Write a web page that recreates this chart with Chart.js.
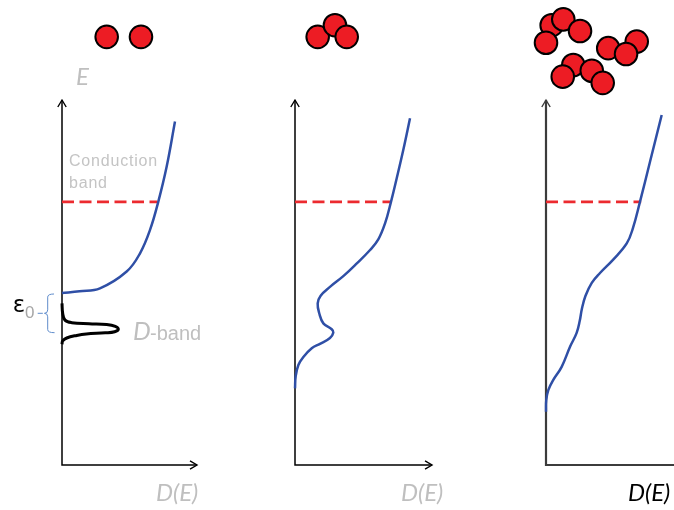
<!DOCTYPE html>
<html>
<head>
<meta charset="utf-8">
<script src="https://cdn.jsdelivr.net/npm/chart.js@4/dist/chart.umd.min.js"></script>
<style>
  html, body { margin: 0; padding: 0; background: #fff; }
  #wrap { position: relative; width: 674px; height: 510px; overflow: hidden; }
  #wrap canvas { position: absolute; top: 0; }
</style>
</head>
<body>
<div id="wrap">
  <canvas id="p1" width="232" height="510" style="left:0px"></canvas>
  <canvas id="p2" width="230" height="510" style="left:232px"></canvas>
  <canvas id="p3" width="212" height="510" style="left:462px"></canvas>
</div>
<script>
// ---- Density of states D(E) vs energy E, in arbitrary units (D, E) ----

// Dimer: conduction-band DOS and the narrow d-band
const dosDimer = [[0, 4.71], [1.3, 4.76], [2.81, 4.84], [4.79, 5.30], [5.78, 5.80],
                  [6.52, 6.44], [7.13, 7.21], [7.75, 8.17], [8.37, 9.41]];
const dBandDimer = [[0, 4.43], [0.05, 4.16], [0.22, 3.97], [0.72, 3.90], [2.0, 3.87],
                    [3.3, 3.85], [3.95, 3.80], [4.17, 3.72], [3.9, 3.65], [3.2, 3.62],
                    [1.8, 3.59], [1.09, 3.55], [0.35, 3.48], [0.05, 3.40], [0, 3.31]];

// Trimer
const dosTrimer = [[0, 2.10], [0.05, 2.43], [0.25, 2.74], [0.62, 2.96], [1.24, 3.20],
                   [1.85, 3.32], [2.59, 3.48], [2.84, 3.63], [2.72, 3.72], [2.10, 3.88],
                   [1.80, 4.15], [1.68, 4.43], [1.90, 4.64], [2.59, 4.88], [3.6, 5.18],
                   [4.6, 5.53], [5.56, 5.89], [6.17, 6.18], [6.67, 6.62],
                   [7.11, 7.21], [7.53, 7.85], [8.02, 8.63], [8.52, 9.50]];

// Larger cluster
const dosCluster = [[0, 1.46], [0.02, 1.78], [0.17, 2.05], [0.54, 2.33], [1.16, 2.69],
                    [1.78, 3.24], [2.27, 3.62], [2.50, 3.95], [2.66, 4.28], [2.92, 4.63],
                    [3.39, 4.99], [4.0, 5.26], [4.96, 5.62], [5.98, 6.07], [6.44, 6.49],
                    [6.96, 7.21], [7.70, 8.30], [8.57, 9.59]];

// Fermi level (dashed) in each panel
const fermiLevel = [[0, 7.21], [7.05, 7.21]];

// Atom positions above each panel, listed back to front
const atomsDimer = [[3.31, 11.73], [5.85, 11.73]];
const atomsTrimer = [[1.68, 11.73], [2.96, 12.05], [3.83, 11.73]];
const atomsCluster = [[0.42, 12.05], [1.28, 12.21], [2.52, 11.89], [0.0, 11.57],
                      [4.61, 11.42], [6.72, 11.60], [5.93, 11.26],
                      [2.02, 10.96], [3.39, 10.80], [1.24, 10.64], [4.20, 10.47]];

// Axis lengths (E axis top, D axis end; null = runs off the page)
const eAxisTop = 10;
const dAxisEnd = [10.0, 10.15, null];

// Text labels
const axisLabelE = 'E';
const axisLabelD = 'D(E)';
const bandLabels = ['Conduction', 'band'];
const dBandLabel = ['D', '-band'];
const gapLabel = ['\u03B5', '0'];

// ---- layout ----
const PX_PER_D = 13.5, PX_PER_E = 36.5;
const BASE_Y = 465, FIG_H = 510;
const panels = [
  { id: 'p1', left: 0,   width: 232, axisX: 62 },
  { id: 'p2', left: 232, width: 230, axisX: 295 },
  { id: 'p3', left: 462, width: 212, axisX: 546 }
];

const BLUE = '#2f4fa6', RED = '#ec2a2f', GREY_TXT = '#bfbfbf';
const pts = arr => arr.map(([x, y]) => ({ x, y }));

function curve(data, color, width) {
  return { type: 'scatter', data: pts(data), showLine: true, borderColor: color,
           borderWidth: width, pointRadius: 0, tension: 0.4, fill: false };
}
function dashed(data) {
  return { type: 'scatter', data: pts(data), showLine: true, borderColor: RED,
           borderWidth: 2.7, borderDash: [12, 5.5], pointRadius: 0, tension: 0, fill: false };
}
function atoms(data) {
  return { type: 'scatter', data: pts(data), showLine: false, pointRadius: 11.3,
           pointBackgroundColor: '#ed1c24', pointBorderColor: '#000', pointBorderWidth: 2,
           pointHoverRadius: 11.3 };
}

// Axes, arrowheads, brace and text
const figurePlugin = {
  id: 'figure',
  beforeDatasetsDraw(chart, args, o) {
    const ctx = chart.ctx, xs = chart.scales.x, ys = chart.scales.y;
    const x0 = xs.getPixelForValue(0), y0 = ys.getPixelForValue(0);
    const yTop = ys.getPixelForValue(eAxisTop);
    const xEnd = o.dEnd === null ? chart.width + 2 : xs.getPixelForValue(o.dEnd);
    ctx.save();
    ctx.strokeStyle = o.axisColor; ctx.lineWidth = o.axisWidth;
    ctx.lineCap = 'butt'; ctx.lineJoin = 'miter';
    ctx.beginPath();
    ctx.moveTo(x0, yTop); ctx.lineTo(x0, y0); ctx.lineTo(xEnd, y0);
    ctx.stroke();
    ctx.lineWidth = 1.4;
    ctx.beginPath();
    ctx.moveTo(x0 - 4.2, yTop + 7); ctx.lineTo(x0, yTop); ctx.lineTo(x0 + 4.2, yTop + 7);
    if (o.dEnd !== null) {
      ctx.moveTo(xEnd - 7, y0 - 4.2); ctx.lineTo(xEnd, y0); ctx.lineTo(xEnd - 7, y0 + 4.2);
    }
    ctx.stroke();
    if (o.brace) {
      const X = v => xs.getPixelForValue(v), Y = v => ys.getPixelForValue(v);
      ctx.strokeStyle = '#5f8ccb'; ctx.lineWidth = 1;
      ctx.beginPath();
      ctx.moveTo(X(-0.59), Y(4.685)); ctx.quadraticCurveTo(X(-1.06), Y(4.685), X(-1.06), Y(4.60));
      ctx.lineTo(X(-1.06), Y(4.25));
      ctx.quadraticCurveTo(X(-1.06), Y(4.156), X(-1.30), Y(4.156));
      ctx.quadraticCurveTo(X(-1.06), Y(4.156), X(-1.06), Y(4.06));
      ctx.lineTo(X(-1.06), Y(3.71));
      ctx.quadraticCurveTo(X(-1.06), Y(3.625), X(-0.55), Y(3.625));
      ctx.moveTo(X(-1.80), Y(4.156)); ctx.lineTo(X(-1.42), Y(4.156));
      ctx.stroke();
    }
    ctx.restore();
  },
  afterDatasetsDraw(chart, args, o) {
    const ctx = chart.ctx, xs = chart.scales.x, ys = chart.scales.y;
    ctx.save();
    ctx.textBaseline = 'alphabetic'; ctx.textAlign = 'left';
    (o.labels || []).forEach(l => {
      ctx.font = l.font; ctx.fillStyle = l.color;
      ctx.letterSpacing = l.spacing || '0px';
      ctx.fillText(l.text, xs.getPixelForValue(l.d), ys.getPixelForValue(l.e));
    });
    ctx.restore();
  }
};

const DE_FONT = 'italic 24px Lato';
const panelLabels = [
  [
    { text: axisLabelE, d: 1.04, e: 10.41, font: 'italic 24px Lato', color: GREY_TXT },
    { text: bandLabels[0], d: 0.52, e: 8.18, font: '16px "Liberation Sans"', color: '#c4c4c4', spacing: '0.8px' },
    { text: bandLabels[1], d: 0.52, e: 7.58, font: '16px "Liberation Sans"', color: '#c4c4c4', spacing: '0.8px' },
    { text: gapLabel[0], d: -3.65, e: 4.20, font: '23px "DejaVu Sans"', color: '#000' },
    { text: gapLabel[1], d: -2.74, e: 4.03, font: '17px "Liberation Sans"', color: '#a6a6a6' },
    { text: dBandLabel[0], d: 5.26, e: 3.42, font: 'italic 25px Lato', color: GREY_TXT },
    { text: dBandLabel[1], d: 6.52, e: 3.42, font: '20px "Liberation Sans"', color: GREY_TXT },
    { text: axisLabelD, d: 6.96, e: -0.99, font: DE_FONT, color: GREY_TXT }
  ],
  [ { text: axisLabelD, d: 7.85, e: -0.99, font: DE_FONT, color: GREY_TXT } ],
  [ { text: axisLabelD, d: 6.07, e: -0.99, font: DE_FONT, color: '#000' } ]
];

const panelData = [
  [atoms(atomsDimer), curve(dosDimer, BLUE, 2.5), dashed(fermiLevel), curve(dBandDimer, '#000', 3)],
  [atoms(atomsTrimer), curve(dosTrimer, BLUE, 2.5), dashed(fermiLevel)],
  [atoms(atomsCluster), curve(dosCluster, BLUE, 2.5), dashed(fermiLevel)]
];
const axisStyle = [
  { color: '#000', width: 1.5 },
  { color: '#000', width: 1.5 },
  { color: '#3c3c3c', width: 2.2 }
];

panels.forEach((p, i) => {
  new Chart(document.getElementById(p.id), {
    type: 'scatter',
    data: { datasets: panelData[i] },
    plugins: [figurePlugin],
    options: {
      responsive: false, animation: false, devicePixelRatio: 1,
      layout: { padding: 0, autoPadding: false },
      events: [],
      scales: {
        x: { type: 'linear', display: false,
             min: (p.left - p.axisX) / PX_PER_D, max: (p.left + p.width - p.axisX) / PX_PER_D },
        y: { type: 'linear', display: false,
             min: -(FIG_H - BASE_Y) / PX_PER_E, max: BASE_Y / PX_PER_E }
      },
      plugins: {
        legend: { display: false }, tooltip: { enabled: false },
        figure: { axisColor: axisStyle[i].color, axisWidth: axisStyle[i].width,
                  dEnd: dAxisEnd[i], brace: i === 0, labels: panelLabels[i] }
      }
    }
  });
});
</script>
</body>
</html>
